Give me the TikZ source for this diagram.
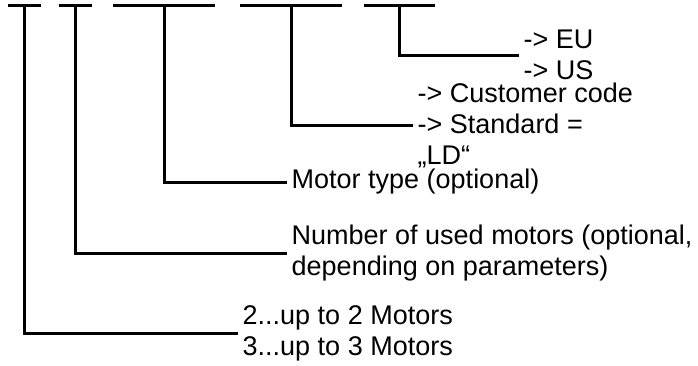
\documentclass[tikz,border=0pt]{standalone}
\usepackage{fontspec}
\setmainfont{Liberation Sans}

\begin{document}
\begin{tikzpicture}[x=1pt, y=-1pt,
      seg/.style={fill=black, inner sep=0pt, minimum height=3pt},
      desc/.style={anchor=west, align=left, inner ysep=0pt, inner xsep=4.5pt, font=\fontsize{27}{31}\selectfont},
      lead/.style={line width=3pt}]
    \useasboundingbox (0,0) rectangle (698,365);

    % code positions
    \node[seg, minimum width=33pt] (pos1) at (24.5,5) {};
    \node[seg, minimum width=33pt] (pos2) at (75.5,5) {};
    \node[seg, minimum width=102pt] (pos3) at (164,5) {};
    \node[seg, minimum width=102pt] (pos4) at (291,5) {};
    \node[seg, minimum width=71pt] (pos5) at (399,5) {};

    % descriptions
    \node[desc] (region) at (519,55) {-> EU\\-> US};
    \node[desc] (custom) at (413,125) {-> Customer code\\-> Standard =\\„LD“};
    \node[desc] (mtype) at (287,182) {Motor type (optional)};
    \node[desc] (used) at (287,253) {Number of used motors (optional,\\depending on parameters)};
    \node[desc] (count) at (238,333) {2...up to 2 Motors\\3...up to 3 Motors};

    \draw[lead] (pos1) |- (count.west);
    \draw[lead] (pos2) |- (used.west);
    \draw[lead] (pos3) |- (mtype.west);
    \draw[lead] (pos4) |- (custom.west);
    \draw[lead] (pos5) |- (region.west);
  \end{tikzpicture}
\end{document}
